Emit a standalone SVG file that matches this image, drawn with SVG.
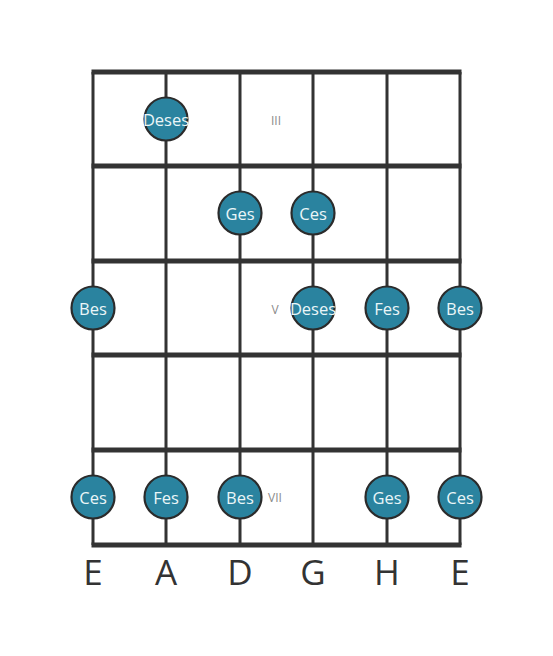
<svg xmlns="http://www.w3.org/2000/svg" width="553" height="656" viewBox="0 0 553 656">
<style>
.str{stroke:#333;stroke-width:3;fill:none}
.fret{stroke:#333;stroke-width:5;fill:none}
.dot circle{fill:#2a839f;stroke:#2b2b2b;stroke-width:2.2}
.dot text{fill:#eaf6f8;font-family:"Open Sans",sans-serif;font-size:16.5px;text-anchor:middle;dominant-baseline:central}
.rn{fill:#8a8a8a;font-family:"Open Sans",sans-serif;font-size:12px;text-anchor:middle;dominant-baseline:central}
.sl{fill:#333;font-family:"Open Sans",sans-serif;font-size:35px;text-anchor:middle}
</style>
<rect width="553" height="656" fill="#fff"/>
<g id="connectors">
<line class="str" x1="93" y1="72" x2="93" y2="545"/>
<line class="str" x1="166" y1="72" x2="166" y2="545"/>
<line class="str" x1="240" y1="72" x2="240" y2="545"/>
<line class="str" x1="313" y1="72" x2="313" y2="545"/>
<line class="str" x1="387" y1="72" x2="387" y2="545"/>
<line class="str" x1="460" y1="72" x2="460" y2="545"/>
<line class="fret" x1="91.5" y1="72" x2="461.5" y2="72"/>
<line class="fret" x1="91.5" y1="166" x2="461.5" y2="166"/>
<line class="fret" x1="91.5" y1="261" x2="461.5" y2="261"/>
<line class="fret" x1="91.5" y1="355" x2="461.5" y2="355"/>
<line class="fret" x1="91.5" y1="450" x2="461.5" y2="450"/>
<line class="fret" x1="91.5" y1="545" x2="461.5" y2="545"/>
</g>
<g id="fret-numbers">
<text class="rn" x="276" y="120">III</text>
<text class="rn" x="275" y="309">V</text>
<text class="rn" x="275" y="497">VII</text>
</g>
<g id="n1" class="dot"><circle cx="166" cy="119" r="21.5"/><text x="166" y="119">Deses</text></g>
<g id="n2" class="dot"><circle cx="240" cy="213" r="21.5"/><text x="240" y="213">Ges</text></g>
<g id="n3" class="dot"><circle cx="313" cy="213" r="21.5"/><text x="313" y="213">Ces</text></g>
<g id="n4" class="dot"><circle cx="93" cy="308" r="21.5"/><text x="93" y="308">Bes</text></g>
<g id="n5" class="dot"><circle cx="313" cy="308" r="21.5"/><text x="313" y="308">Deses</text></g>
<g id="n6" class="dot"><circle cx="387" cy="308" r="21.5"/><text x="387" y="308">Fes</text></g>
<g id="n7" class="dot"><circle cx="460" cy="308" r="21.5"/><text x="460" y="308">Bes</text></g>
<g id="n8" class="dot"><circle cx="93" cy="497" r="21.5"/><text x="93" y="497">Ces</text></g>
<g id="n9" class="dot"><circle cx="166" cy="497" r="21.5"/><text x="166" y="497">Fes</text></g>
<g id="n10" class="dot"><circle cx="240" cy="497" r="21.5"/><text x="240" y="497">Bes</text></g>
<g id="n11" class="dot"><circle cx="387" cy="497" r="21.5"/><text x="387" y="497">Ges</text></g>
<g id="n12" class="dot"><circle cx="460" cy="497" r="21.5"/><text x="460" y="497">Ces</text></g>
<g id="string-labels">
<text class="sl" x="93" y="585">E</text>
<text class="sl" x="166" y="585">A</text>
<text class="sl" x="240" y="585">D</text>
<text class="sl" x="313" y="585">G</text>
<text class="sl" x="387" y="585">H</text>
<text class="sl" x="460" y="585">E</text>
</g>
</svg>
